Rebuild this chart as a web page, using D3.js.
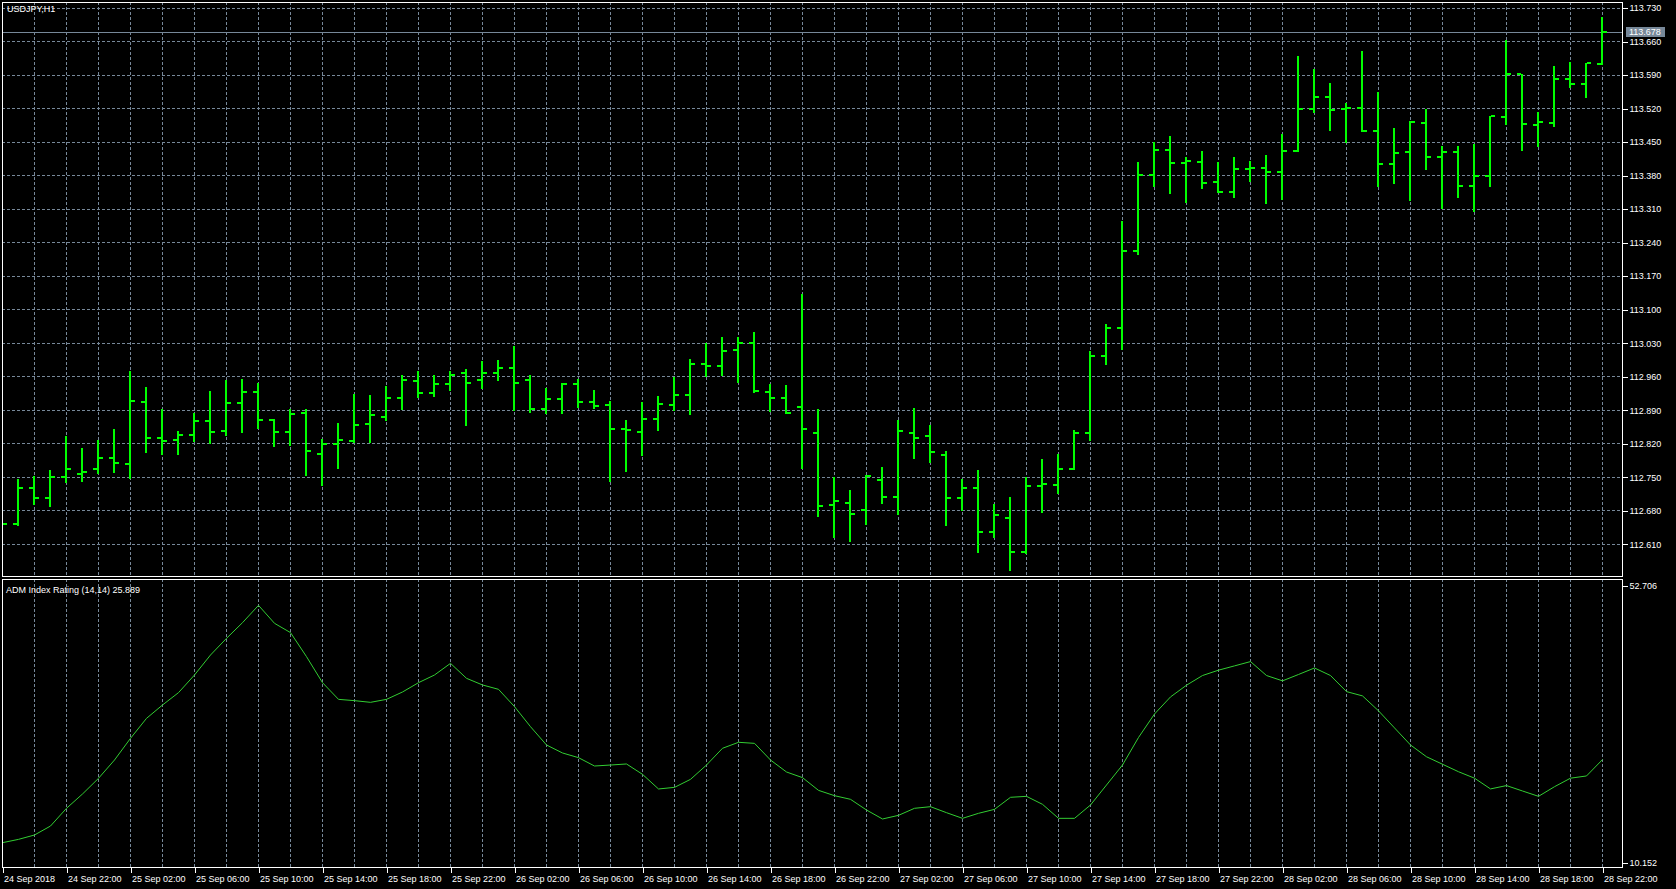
<!DOCTYPE html>
<html><head><meta charset="utf-8">
<script src="https://cdn.jsdelivr.net/npm/d3@7"></script>
<style>html,body{margin:0;padding:0;background:#000;overflow:hidden}text{font-family:"Liberation Sans",Arial,sans-serif;font-size:9px;fill:#fff}</style>
</head><body>
<svg id="c" width="1676" height="889"></svg>
<script>
// ---------- data ----------
const symbolLabel = "USDJPY,H1";
const indicatorLabel = "ADM Index Rating (14,14) 25.889";
const currentPrice = 113.678;

const timeTickIndex = [0,4,8,12,16,20,24,28,32,36,40,44,48,52,56,60,64,68,72,76,80,84,88,92,96,100];
const timeTickLabels = ["24 Sep 2018","24 Sep 22:00","25 Sep 02:00","25 Sep 06:00","25 Sep 10:00","25 Sep 14:00","25 Sep 18:00","25 Sep 22:00","26 Sep 02:00","26 Sep 06:00","26 Sep 10:00","26 Sep 14:00","26 Sep 18:00","26 Sep 22:00","27 Sep 02:00","27 Sep 06:00","27 Sep 10:00","27 Sep 14:00","27 Sep 18:00","27 Sep 22:00","28 Sep 02:00","28 Sep 06:00","28 Sep 10:00","28 Sep 14:00","28 Sep 18:00","28 Sep 22:00"];

const priceTicks = [112.610,112.680,112.750,112.820,112.890,112.960,113.030,113.100,113.170,113.240,113.310,113.380,113.450,113.520,113.590,113.660,113.730];
const admTicks = [10.152, 52.706];

const opens = [112.642,112.652,112.726,112.706,112.750,112.756,112.766,112.790,112.777,112.906,
112.831,112.827,112.837,112.866,112.845,112.904,112.926,112.869,112.843,112.884,
112.797,112.818,112.824,112.859,112.875,112.914,112.949,112.925,112.943,112.966,
112.952,112.966,112.977,112.951,112.891,112.912,112.943,112.906,112.900,112.849,
112.843,112.871,112.900,112.920,112.985,112.981,113.014,113.029,112.926,112.915,
112.895,112.841,112.690,112.695,112.681,112.743,112.707,112.841,112.835,112.795,
112.706,112.726,112.635,112.664,112.593,112.730,112.732,112.767,112.841,113.002,
113.060,113.222,113.381,113.432,113.406,113.408,113.366,113.344,113.393,113.395,
113.386,113.430,113.518,113.544,113.517,113.520,113.472,113.404,113.428,113.489,
113.417,113.429,113.358,113.377,113.501,113.592,113.484,113.489,113.580,113.570,113.612];
const highs = [112.660,112.746,112.752,112.763,112.834,112.810,112.826,112.849,112.971,112.938,
112.891,112.846,112.883,112.929,112.951,112.954,112.946,112.871,112.891,112.891,
112.829,112.863,112.923,112.921,112.940,112.963,112.971,112.962,112.971,112.974,
112.992,112.994,113.022,112.962,112.935,112.946,112.954,112.932,112.909,112.869,
112.905,112.918,112.958,112.995,113.029,113.042,113.042,113.053,112.943,112.942,
113.131,112.892,112.750,112.723,112.753,112.770,112.869,112.894,112.857,112.803,
112.746,112.764,112.692,112.707,112.750,112.787,112.798,112.847,113.012,113.068,
113.285,113.407,113.450,113.461,113.418,113.430,113.407,113.418,113.409,113.421,
113.466,113.629,113.601,113.572,113.531,113.640,113.553,113.478,113.493,113.518,
113.441,113.441,113.444,113.504,113.662,113.592,113.511,113.608,113.617,113.615,113.711];
const lows = [112.636,112.649,112.693,112.689,112.738,112.740,112.758,112.760,112.747,112.801,
112.797,112.797,112.824,112.821,112.838,112.843,112.851,112.814,112.817,112.753,
112.733,112.769,112.823,112.823,112.868,112.892,112.917,112.918,112.931,112.858,
112.935,112.952,112.889,112.886,112.884,112.883,112.895,112.894,112.740,112.761,
112.795,112.847,112.889,112.881,112.960,112.963,112.948,112.926,112.888,112.884,
112.769,112.667,112.625,112.615,112.652,112.695,112.673,112.789,112.780,112.650,
112.681,112.593,112.625,112.554,112.590,112.676,112.716,112.767,112.827,112.985,
113.017,113.216,113.358,113.342,113.324,113.352,113.344,113.334,113.367,113.322,
113.329,113.430,113.512,113.474,113.450,113.472,113.358,113.364,113.327,113.393,
113.312,113.334,113.304,113.358,113.487,113.433,113.440,113.483,113.563,113.544,113.612];
const closes = [112.652,112.726,112.706,112.750,112.766,112.760,112.790,112.778,112.908,112.831,
112.824,112.837,112.866,112.843,112.903,112.926,112.869,112.843,112.881,112.803,
112.818,112.826,112.857,112.878,112.914,112.951,112.925,112.943,112.962,112.945,
112.966,112.977,112.945,112.891,112.912,112.943,112.906,112.897,112.849,112.847,
112.871,112.901,112.921,112.985,112.982,113.012,113.029,112.929,112.915,112.884,
112.849,112.689,112.699,112.672,112.752,112.707,112.846,112.831,112.801,112.706,
112.726,112.635,112.669,112.593,112.730,112.735,112.766,112.841,113.002,113.060,
113.222,113.381,113.432,113.406,113.409,113.364,113.344,113.393,113.395,113.386,
113.430,113.518,113.544,113.515,113.521,113.472,113.404,113.426,113.490,113.417,
113.429,113.357,113.377,113.503,113.591,113.486,113.490,113.580,113.570,113.615,113.678];

const admValues = [13.12,13.63,14.30,15.68,18.40,20.60,23.01,25.82,29.15,32.22,
34.27,36.17,38.88,41.95,44.51,46.92,49.58,46.82,45.39,41.70,
37.70,35.14,34.94,34.68,35.14,36.27,37.70,38.88,40.67,38.37,
37.35,36.68,34.02,30.94,28.13,26.90,26.18,24.90,25.05,25.21,
23.62,21.37,21.62,22.85,25.05,27.62,28.54,28.38,25.82,23.98,
23.11,21.16,20.34,19.78,18.14,16.76,17.32,18.40,18.65,17.73,
16.86,17.63,18.24,20.09,20.24,19.01,16.86,16.86,18.91,21.98,
25.05,29.28,32.89,35.51,37.31,38.80,39.62,40.28,40.94,38.80,
37.98,38.96,39.96,38.80,36.33,35.67,33.38,30.75,28.13,26.32,
25.17,24.02,23.03,21.38,21.89,21.06,20.24,21.72,23.03,23.37,25.889];

// ---------- layout ----------
const L = 2, R = 1622;
const pTop = 2, pBot = 576, iTop = 579, iBot = 867;
const gridColor = "#778899", barColor = "#00ff00", admColor = "#32cd32";

const svg = d3.select("#c");
svg.append("rect").attr("width",1676).attr("height",889).attr("fill","#000");

const x = d3.scaleLinear().domain([0,100]).range([2,1602]);
const yP = d3.scaleLinear().domain([112.5425,113.7415]).range([pBot,pTop]);
const yI = d3.scaleLinear().domain([10.152,52.706]).range([862,585]);

const defs = svg.append("defs");
defs.append("clipPath").attr("id","cp").append("rect").attr("x",L).attr("y",pTop).attr("width",R-L).attr("height",pBot-pTop);
defs.append("clipPath").attr("id","ci").append("rect").attr("x",L).attr("y",iTop).attr("width",R-L).attr("height",iBot-iTop);

// grid
const gridIdx = d3.range(2,101,2);
const g = svg.append("g").attr("stroke",gridColor).attr("stroke-width",1).attr("stroke-dasharray","3,2").attr("shape-rendering","crispEdges");
g.selectAll("line.vp").data(gridIdx).join("line").attr("class","vp")
  .attr("x1",d=>x(d)+0.5).attr("x2",d=>x(d)+0.5).attr("y1",pTop).attr("y2",pBot);
g.selectAll("line.vi").data(gridIdx).join("line").attr("class","vi")
  .attr("x1",d=>x(d)+0.5).attr("x2",d=>x(d)+0.5).attr("y1",iTop).attr("y2",iBot);
g.selectAll("line.h").data(priceTicks).join("line").attr("class","h")
  .attr("x1",L).attr("x2",R).attr("y1",d=>Math.round(yP(d))+0.5).attr("y2",d=>Math.round(yP(d))+0.5);

// current price line
svg.append("line").attr("x1",L).attr("x2",R)
  .attr("y1",Math.round(yP(currentPrice))+0.5).attr("y2",Math.round(yP(currentPrice))+0.5)
  .attr("stroke",gridColor).attr("shape-rendering","crispEdges");

// bars
const bars = svg.append("g").attr("clip-path","url(#cp)").attr("fill",barColor).attr("shape-rendering","crispEdges");
const idx = d3.range(opens.length);
bars.selectAll("rect.v").data(idx).join("rect").attr("class","v")
  .attr("x",i=>x(i)-1).attr("width",2)
  .attr("y",i=>Math.round(yP(highs[i])))
  .attr("height",i=>Math.max(1,Math.round(yP(lows[i]))-Math.round(yP(highs[i]))+1));
bars.selectAll("rect.o").data(idx).join("rect").attr("class","o")
  .attr("x",i=>x(i)-5).attr("width",4)
  .attr("y",i=>Math.round(yP(opens[i]))-1).attr("height",2);
bars.selectAll("rect.c").data(idx).join("rect").attr("class","c")
  .attr("x",i=>x(i)+1).attr("width",4)
  .attr("y",i=>Math.round(yP(closes[i]))-1).attr("height",2);

// indicator line
svg.append("path").attr("clip-path","url(#ci)")
  .datum(admValues)
  .attr("fill","none").attr("stroke",admColor).attr("stroke-width",1)
  .attr("d",d3.line().x((d,i)=>x(i)+0.5).y(d=>yI(d)));

// frames
const fr = svg.append("g").attr("fill","none").attr("stroke","#fff").attr("shape-rendering","crispEdges");
fr.append("rect").attr("x",L+0.5).attr("y",pTop+0.5).attr("width",R-L).attr("height",pBot-pTop);
fr.append("rect").attr("x",L+0.5).attr("y",iTop+0.5).attr("width",R-L).attr("height",iBot-iTop);

// axes
function styleAxis(sel){
  sel.select(".domain").remove();
  sel.selectAll(".tick line").attr("stroke","#fff").attr("shape-rendering","crispEdges");
  sel.selectAll(".tick text").attr("fill","#fff").style("font-family","'Liberation Sans',Arial,sans-serif").style("font-size","9px");
}
const axP = svg.append("g").attr("transform",`translate(${R+0.5},0.5)`)
  .call(d3.axisRight(yP).tickValues(priceTicks).tickSize(5).tickPadding(2).tickFormat(d3.format(".3f")));
styleAxis(axP);
const axI = svg.append("g").attr("transform",`translate(${R+0.5},0.5)`)
  .call(d3.axisRight(yI).tickValues(admTicks).tickSize(5).tickPadding(2).tickFormat(d3.format(".3f")));
styleAxis(axI);
const axT = svg.append("g").attr("transform",`translate(0.5,${iBot+0.5})`)
  .call(d3.axisBottom(x).tickValues(timeTickIndex).tickSize(5).tickPadding(3).tickFormat((d,i)=>timeTickLabels[i]));
styleAxis(axT);
axT.selectAll(".tick text").attr("text-anchor","start").attr("x",1);

// current price label box
const cy = Math.round(yP(currentPrice));
svg.append("rect").attr("x",R+4).attr("y",cy-5).attr("width",39).attr("height",10).attr("fill",gridColor);
svg.append("text").attr("x",R+7).attr("y",cy).attr("dy","0.35em").text(d3.format(".3f")(currentPrice)).style("fill","#fff");

// titles
svg.append("text").attr("x",7).attr("y",9).attr("dy","0.35em").text(symbolLabel);
svg.append("text").attr("x",6).attr("y",iTop+11).attr("dy","0.35em").text(indicatorLabel);
</script>
</body></html>
